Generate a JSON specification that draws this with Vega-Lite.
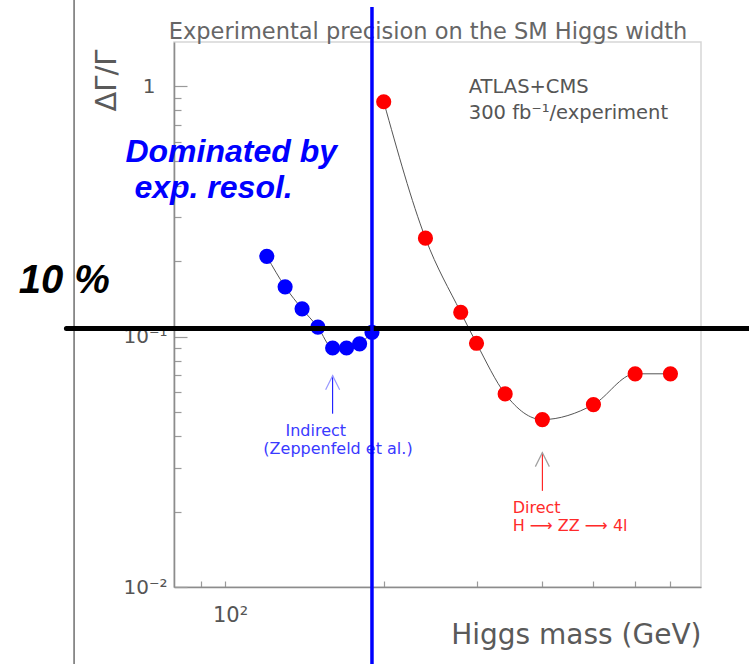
{
  "$schema": "https://vega.github.io/schema/vega-lite/v6.json",
  "width": 527,
  "height": 545,
  "autosize": "none",
  "padding": {"left": 174, "top": 42, "right": 48, "bottom": 77},
  "background": "white",
  "config": {
    "view": {"stroke": "#d6d6d6", "strokeWidth": 1.5},
    "font": "DejaVu Sans"
  },
  "datasets": {
    "higgs": [
      {"mass": 120, "width": 0.209, "method": "Indirect"},
      {"mass": 130, "width": 0.158, "method": "Indirect"},
      {"mass": 140, "width": 0.129, "method": "Indirect"},
      {"mass": 150, "width": 0.109, "method": "Indirect"},
      {"mass": 160, "width": 0.090, "method": "Indirect"},
      {"mass": 170, "width": 0.090, "method": "Indirect"},
      {"mass": 180, "width": 0.0935, "method": "Indirect"},
      {"mass": 190, "width": 0.104, "method": "Indirect"},
      {"mass": 200, "width": 0.866, "method": "Direct"},
      {"mass": 240, "width": 0.247, "method": "Direct"},
      {"mass": 280, "width": 0.125, "method": "Direct"},
      {"mass": 300, "width": 0.094, "method": "Direct"},
      {"mass": 340, "width": 0.059, "method": "Direct"},
      {"mass": 400, "width": 0.0466, "method": "Direct"},
      {"mass": 500, "width": 0.0535, "method": "Direct"},
      {"mass": 600, "width": 0.071, "method": "Direct"},
      {"mass": 700, "width": 0.071, "method": "Direct"}
    ]
  },
  "layer": [
    {
      "data": {"name": "higgs"},
      "mark": {"type": "line", "interpolate": "monotone", "color": "#555555", "strokeWidth": 1, "clip": false},
      "encoding": {
        "x": {
          "field": "mass", "type": "quantitative",
          "scale": {"type": "log", "domain": [80, 800], "nice": false},
          "axis": {
            "values": [90, 100, 200, 300, 400, 500, 600, 700],
            "labelExpr": "datum.value == 100 ? '10²' : ''",
            "grid": false,
            "domainColor": "#8c8c8c", "domainWidth": 1.6,
            "tickColor": "#9a9a9a", "tickWidth": 1.2, "tickSize": -6,
            "labelFont": "DejaVu Sans", "labelFontSize": 21, "labelColor": "#555555",
            "labelPadding": 23, "labelOffset": 5, "labelFlush": false,
            "title": "Higgs mass (GeV)",
            "titleFont": "DejaVu Sans", "titleFontSize": 28, "titleFontWeight": "normal",
            "titleColor": "#5a5a5a",
            "titleAnchor": "end", "titleAlign": "right", "titleBaseline": "alphabetic",
            "titleX": 527, "titleY": 56
          }
        },
        "y": {
          "field": "width", "type": "quantitative",
          "scale": {"type": "log", "domain": [0.01, 1.5], "nice": false},
          "axis": {
            "values": [0.01, 0.02, 0.03, 0.04, 0.05, 0.06, 0.07, 0.08, 0.09, 0.1, 0.2, 0.3, 0.4, 0.5, 0.6, 0.7, 0.8, 0.9, 1],
            "labelExpr": "datum.value == 1 ? '1' : datum.value == 0.1 ? '10⁻¹' : datum.value == 0.01 ? '10⁻²' : ''",
            "grid": false,
            "domainColor": "#8c8c8c", "domainWidth": 1.6,
            "tickColor": "#9a9a9a", "tickWidth": 1.2,
            "tickSize": {"condition": {"test": "datum.value == 1 || datum.value == 0.1 || datum.value == 0.01", "value": -13}, "value": -7},
            "labelFont": "DejaVu Sans", "labelFontSize": 20, "labelColor": "#555555",
            "labelPadding": {"condition": {"test": "datum.value == 1", "value": 32}, "value": 20},
            "labelFlush": false,
            "title": "ΔΓ/Γ",
            "titleFont": "DejaVu Sans", "titleFontSize": 29, "titleFontWeight": "normal",
            "titleColor": "#5a5a5a",
            "titleAngle": -90, "titleAlign": "center", "titleBaseline": "alphabetic",
            "titleX": -59, "titleY": 38
          }
        },
        "detail": {"field": "method"}
      }
    },
    {
      "data": {"name": "higgs"},
      "mark": {"type": "point", "filled": true, "opacity": 1, "size": 230, "clip": false},
      "encoding": {
        "x": {"field": "mass", "type": "quantitative", "scale": {"type": "log", "domain": [80, 800], "nice": false}},
        "y": {"field": "width", "type": "quantitative", "scale": {"type": "log", "domain": [0.01, 1.5], "nice": false}},
        "color": {
          "field": "method", "type": "nominal",
          "scale": {"domain": ["Indirect", "Direct"], "range": ["#0000ff", "#ff0000"]},
          "legend": null
        }
      }
    },
    {
      "data": {"values": [{"mass": 160, "tip": 0.0698, "foot": 0.0492, "method": "Indirect"}, {"mass": 400, "tip": 0.0344, "foot": 0.0242, "method": "Direct"}]},
      "mark": {"type": "rule", "strokeWidth": 1, "clip": false},
      "encoding": {
        "x": {"field": "mass", "type": "quantitative", "scale": {"type": "log", "domain": [80, 800], "nice": false}},
        "y": {"field": "tip", "type": "quantitative", "scale": {"type": "log", "domain": [0.01, 1.5], "nice": false}},
        "y2": {"field": "foot"},
        "color": {
          "field": "method", "type": "nominal",
          "scale": {"domain": ["Indirect", "Direct"], "range": ["#9a9aff", "#a0a0a0"]},
          "legend": null
        }
      }
    },
    {
      "data": {"values": [{"mass": 160, "tip": 0.0698, "method": "Indirect"}, {"mass": 400, "tip": 0.0344, "method": "Direct"}]},
      "mark": {"type": "point", "shape": "M-1,2L0,0L1,2", "filled": false, "size": 196, "strokeWidth": 1.2, "opacity": 1, "clip": false},
      "encoding": {
        "x": {"field": "mass", "type": "quantitative", "scale": {"type": "log", "domain": [80, 800], "nice": false}},
        "y": {"field": "tip", "type": "quantitative", "scale": {"type": "log", "domain": [0.01, 1.5], "nice": false}},
        "stroke": {
          "field": "method", "type": "nominal",
          "scale": {"domain": ["Indirect", "Direct"], "range": ["#9a9aff", "#a0a0a0"]},
          "legend": null
        }
      }
    },
    {
      "data": {"values": [{"mass": 78.2, "width": 1.542, "label": "Experimental precision on the SM Higgs width"}]},
      "mark": {"type": "text", "align": "left", "baseline": "alphabetic", "font": "DejaVu Sans", "fontSize": 22.5, "color": "#666666", "clip": false},
      "encoding": {
        "x": {"field": "mass", "type": "quantitative", "scale": {"type": "log", "domain": [80, 800], "nice": false}},
        "y": {"field": "width", "type": "quantitative", "scale": {"type": "log", "domain": [0.01, 1.5], "nice": false}},
        "text": {"field": "label"}
      }
    },
    {
      "data": {"values": [
        {"mass": 290, "width": 0.9375, "label": "ATLAS+CMS"},
        {"mass": 290, "width": 0.738, "label": "300 fb⁻¹/experiment"}
      ]},
      "mark": {"type": "text", "align": "left", "baseline": "alphabetic", "font": "DejaVu Sans", "fontSize": 19.5, "color": "#555555", "clip": false},
      "encoding": {
        "x": {"field": "mass", "type": "quantitative", "scale": {"type": "log", "domain": [80, 800], "nice": false}},
        "y": {"field": "width", "type": "quantitative", "scale": {"type": "log", "domain": [0.01, 1.5], "nice": false}},
        "text": {"field": "label"}
      }
    },
    {
      "data": {"values": [
        {"mass": 130.2, "width": 0.0402, "label": "Indirect"},
        {"mass": 118.2, "width": 0.034, "label": "(Zeppenfeld et al.)"}
      ]},
      "mark": {"type": "text", "align": "left", "baseline": "alphabetic", "font": "DejaVu Sans", "fontSize": 16, "color": "#3a3aff", "clip": false},
      "encoding": {
        "x": {"field": "mass", "type": "quantitative", "scale": {"type": "log", "domain": [80, 800], "nice": false}},
        "y": {"field": "width", "type": "quantitative", "scale": {"type": "log", "domain": [0.01, 1.5], "nice": false}},
        "text": {"field": "label"}
      }
    },
    {
      "data": {"values": [
        {"mass": 351.4, "width": 0.01977, "label": "Direct"},
        {"mass": 351.4, "width": 0.01675, "label": "H ⟶ ZZ ⟶ 4l"}
      ]},
      "mark": {"type": "text", "align": "left", "baseline": "alphabetic", "font": "DejaVu Sans", "fontSize": 16, "color": "#ff2a2a", "clip": false},
      "encoding": {
        "x": {"field": "mass", "type": "quantitative", "scale": {"type": "log", "domain": [80, 800], "nice": false}},
        "y": {"field": "width", "type": "quantitative", "scale": {"type": "log", "domain": [0.01, 1.5], "nice": false}},
        "text": {"field": "label"}
      }
    },
    {
      "data": {"values": [{"mass": 51.7, "top": 2.21, "bottom": 0.0048}]},
      "mark": {"type": "rule", "color": "#6e6e6e", "strokeWidth": 1.5, "clip": false},
      "encoding": {
        "x": {"field": "mass", "type": "quantitative", "scale": {"type": "log", "domain": [80, 800], "nice": false}},
        "y": {"field": "top", "type": "quantitative", "scale": {"type": "log", "domain": [0.01, 1.5], "nice": false}},
        "y2": {"field": "bottom"}
      }
    },
    {
      "data": {"values": [{"from": 50, "to": 1000, "level": 0.1}]},
      "mark": {"type": "rule", "color": "#000000", "strokeWidth": 5, "strokeCap": "round", "yOffset": -8, "clip": false},
      "encoding": {
        "x": {"field": "from", "type": "quantitative", "scale": {"type": "log", "domain": [80, 800], "nice": false}},
        "x2": {"field": "to"},
        "y": {"field": "level", "type": "quantitative", "scale": {"type": "log", "domain": [0.01, 1.5], "nice": false}}
      }
    },
    {
      "data": {"values": [{"mass": 190, "top": 2.07, "bottom": 0.0048}]},
      "mark": {"type": "rule", "color": "#0000ff", "strokeWidth": 3.5, "clip": false},
      "encoding": {
        "x": {"field": "mass", "type": "quantitative", "scale": {"type": "log", "domain": [80, 800], "nice": false}},
        "y": {"field": "top", "type": "quantitative", "scale": {"type": "log", "domain": [0.01, 1.5], "nice": false}},
        "y2": {"field": "bottom"}
      }
    },
    {
      "data": {"values": [
        {"mass": 64.7, "width": 0.4966, "label": "Dominated by"},
        {"mass": 67.3, "width": 0.3565, "label": "exp. resol."}
      ]},
      "mark": {"type": "text", "align": "left", "baseline": "alphabetic", "font": "Liberation Sans", "fontSize": 32, "fontWeight": "bold", "fontStyle": "italic", "color": "#0000ff", "clip": false},
      "encoding": {
        "x": {"field": "mass", "type": "quantitative", "scale": {"type": "log", "domain": [80, 800], "nice": false}},
        "y": {"field": "width", "type": "quantitative", "scale": {"type": "log", "domain": [0.01, 1.5], "nice": false}},
        "text": {"field": "label"}
      }
    },
    {
      "data": {"values": [{"mass": 40.6, "width": 0.1486, "label": "10 %"}]},
      "mark": {"type": "text", "align": "left", "baseline": "alphabetic", "font": "Liberation Sans", "fontSize": 40, "fontWeight": "bold", "fontStyle": "italic", "color": "#000000", "clip": false},
      "encoding": {
        "x": {"field": "mass", "type": "quantitative", "scale": {"type": "log", "domain": [80, 800], "nice": false}},
        "y": {"field": "width", "type": "quantitative", "scale": {"type": "log", "domain": [0.01, 1.5], "nice": false}},
        "text": {"field": "label"}
      }
    }
  ]
}
